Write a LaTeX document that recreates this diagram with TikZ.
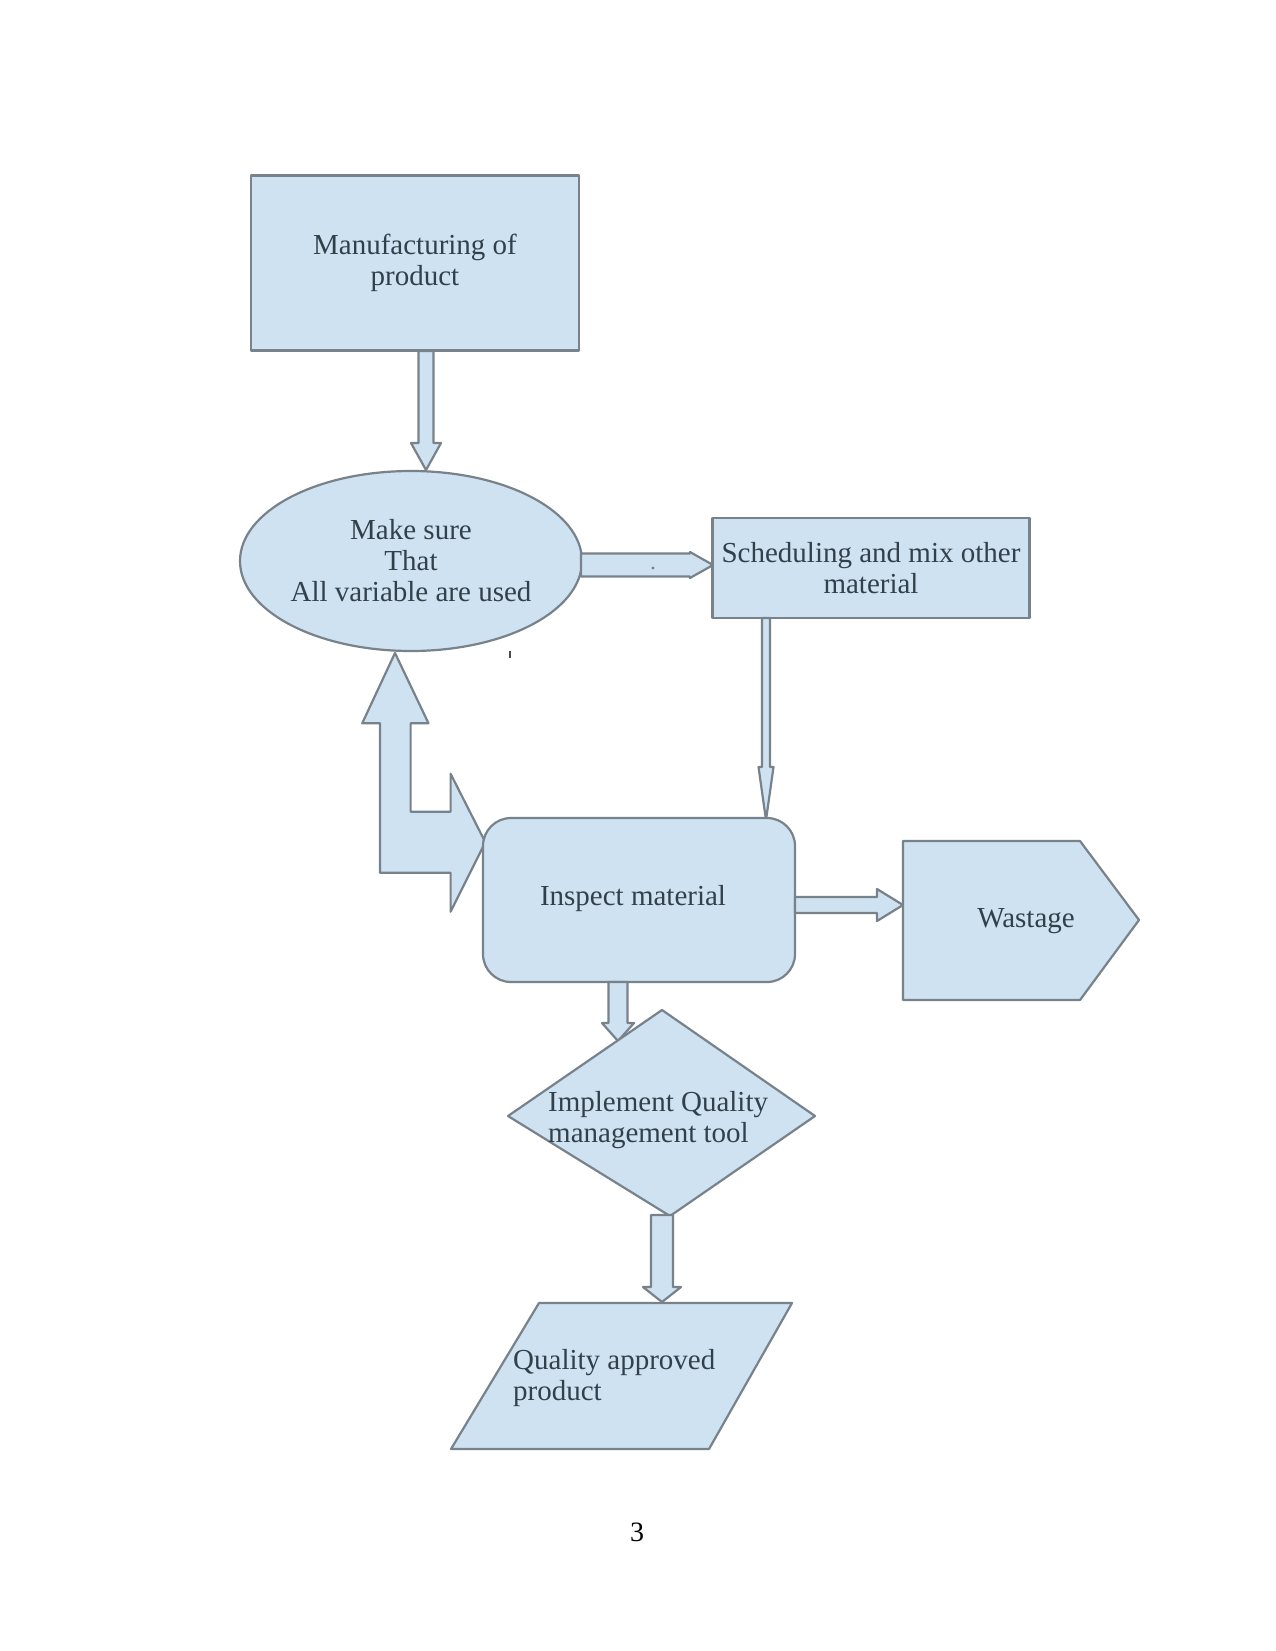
\documentclass[tikz,border=0pt]{standalone}
\usepackage{fontspec}
\setmainfont{Liberation Serif}
\usetikzlibrary{shapes.geometric}
\definecolor{boxfill}{RGB}{207,226,242}
\definecolor{boxline}{RGB}{120,130,138}
\definecolor{txt}{RGB}{50,64,74}
\newcommand\vblk[6]{\draw[shp] ({#1-#5},#2) -- ({#1-#5},#3) -- ({#1-#6},#3) -- (#1,#4) -- ({#1+#6},#3) -- ({#1+#5},#3) -- ({#1+#5},#2) -- cycle;}
\newcommand\hblk[6]{\draw[shp] (#2,{#1-#5}) -- (#3,{#1-#5}) -- (#3,{#1-#6}) -- (#4,#1) -- (#3,{#1+#6}) -- (#3,{#1+#5}) -- (#2,{#1+#5}) -- cycle;}
\begin{document}
\begin{tikzpicture}[x=1pt,y=-1pt,
  shp/.style={draw=boxline,fill=boxfill,line width=2.2pt,line join=round},
  lbl/.style={text=txt,font=\fontsize{29}{31}\selectfont,align=center,inner sep=0pt}]
\fill[white] (0,0) rectangle (1275,1651);
\useasboundingbox (0,0) rectangle (1275,1651);

% Manufacturing box
\node[shp,lbl,minimum width=328pt,minimum height=175pt] (mfg) at (415,263) {Manufacturing of\\product};
% arrow mfg -> ellipse
\vblk{426}{351}{443}{470}{7.5}{15}
% ellipse
\node[shp,lbl,ellipse,minimum width=342pt,minimum height=180pt] (ell) at (411,561) {Make sure\\That\\All variable are used};
% arrow ellipse -> scheduling
\hblk{565}{581}{690}{713}{11.5}{13}
\fill[boxline] (653,568) circle (1.6pt);
% scheduling box
\node[shp,lbl,minimum width=317pt,minimum height=100pt] (sch) at (871,568) {Scheduling and mix other\\material};
% thin arrow scheduling -> inspect
\vblk{766}{618}{767}{820}{4}{7.5}
% stray mark
\fill[boxline!60!black] (508.5,651) rectangle (510.5,658);
% L-shaped double arrow
\draw[shp] (395,653) -- (428.5,723.3) -- (410.6,723.3) -- (410.6,811.7) -- (450.6,811.7) -- (450.6,773.8) -- (485.3,842.2) -- (450.6,911.7) -- (450.6,872.8) -- (380,872.8) -- (380,723.3) -- (362.2,723.3) -- cycle;
% inspect box
\node[shp,lbl,rounded corners=28pt,minimum width=312pt,minimum height=164pt] (insp) at (639,900) {};
\node[lbl] (insptxt) at (633,899) {Inspect material};
% arrow inspect -> wastage
\hblk{905}{795}{877}{903}{8}{16}
% wastage
\draw[shp] (903,841) -- (1080,841) -- (1139,920) -- (1080,1000) -- (903,1000) -- cycle;
\node[lbl] (wst) at (1026,921) {Wastage};
% arrow inspect -> diamond
\vblk{618}{982}{1023}{1041}{9.5}{16}
% diamond
\draw[shp] (662,1010) -- (815,1116) -- (670,1216) -- (508,1116) -- cycle;
\node[lbl,align=left,anchor=west] (qm) at (548,1120) {Implement Quality\\management tool};
% arrow diamond -> parallelogram
\vblk{662}{1215}{1287}{1302}{11}{19}
% parallelogram
\draw[shp] (539,1303) -- (792,1303) -- (709,1449) -- (451,1449) -- cycle;
\node[lbl,align=left,anchor=west] (qa) at (513,1378) {Quality approved\\product};
% page number
\node[font=\fontsize{28}{30}\selectfont,inner sep=0pt] (pg) at (637,1532) {3};
\end{tikzpicture}
\end{document}
